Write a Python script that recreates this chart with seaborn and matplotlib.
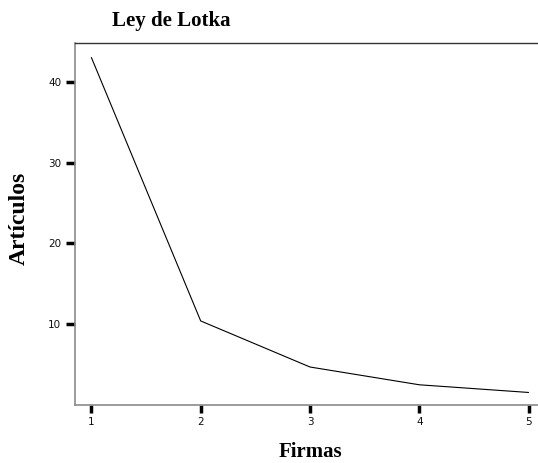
import matplotlib
matplotlib.use("Agg")
import matplotlib.pyplot as plt
import pandas as pd
import seaborn as sns

firmas = [1, 2, 3, 4, 5]
articulos = [43.0, 10.4, 4.7, 2.5, 1.55]
y_ticks = [10, 20, 30, 40]

sns.set_style("ticks")
plt.rcParams["font.family"] = ["DejaVu Sans"]

df = pd.DataFrame({"Firmas": firmas, "Artículos": articulos})

fig = plt.figure(figsize=(5.38, 4.63), dpi=100)
ax = fig.add_axes([0.1394, 0.1253, 0.8736, 0.7819])

sns.lineplot(data=df, x="Firmas", y="Artículos", color="black",
             linewidth=0.8, ax=ax)

ax.set_xlim(0.85, 5.15)
ax.set_ylim(0, 44.8)
ax.set_xticks(firmas)
ax.set_yticks(y_ticks)
ax.tick_params(axis="both", width=2.5, color="black", labelsize=7.5,
               labelcolor="#111111")
ax.tick_params(axis="y", length=6.5, pad=3.5)
ax.tick_params(axis="x", length=5.5, pad=3.5)

for side in ("left", "bottom"):
    ax.spines[side].set_color("#8a8a8a")
    ax.spines[side].set_linewidth(1.2)
ax.spines["top"].set_color("#333333")
ax.spines["top"].set_linewidth(1.0)
ax.spines["right"].set_color("#333333")

serif = ["Liberation Serif", "DejaVu Serif"]
ax.set_xlabel("")
ax.set_ylabel("")
fig.text(171 / 538, 1 - 26 / 463, "Ley de Lotka", ha="center",
         va="baseline", fontsize=15, fontweight="bold", family=serif,
         color="black")
fig.text(310 / 538, 1 / 463, "Firmas", ha="center", va="bottom",
         fontsize=15, fontweight="bold", family=serif, color="black")
fig.text(19 / 538, 1 - 218 / 463, "Artículos", ha="center", va="center",
         rotation=90, fontsize=17, fontweight="bold", family=serif,
         color="black")

fig.savefig("out.png", dpi=100)
